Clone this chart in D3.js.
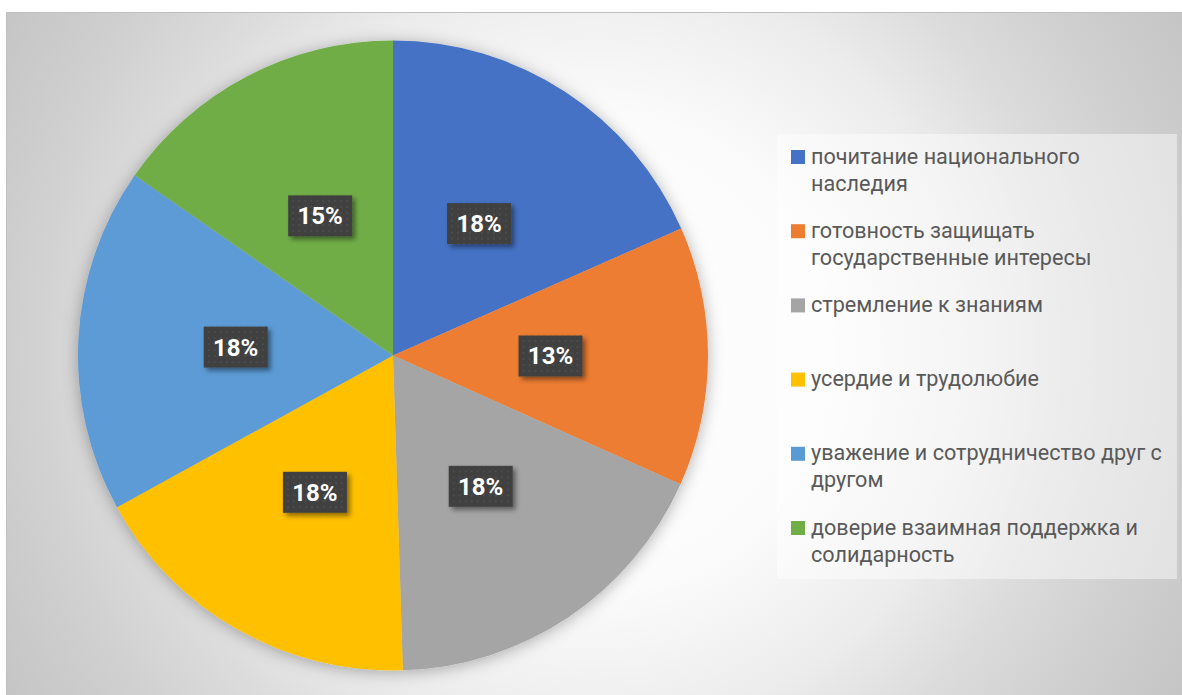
<!DOCTYPE html>
<html lang="ru">
<head>
<meta charset="UTF-8">
<script src="https://d3js.org/d3.v7.min.js"></script>
<style>
  body { margin: 0; background: #fff; font-family: Roboto, "Noto Sans", sans-serif; }
  .legend-text { font-size: 21.6px; fill: #595959; }
  .pct { font-size: 24px; font-weight: bold; fill: #fff; text-anchor: middle; }
</style>
</head>
<body>
<svg id="chart" width="1182" height="695"></svg>
<script>
// slice names in drawing order (clockwise from 12 o'clock); "\n" = legend line break
const categories = [
  "почитание национального\nнаследия",
  "готовность защищать\nгосударственные интересы",
  "стремление к знаниям",
  "усердие и трудолюбие",
  "уважение и сотрудничество друг с\nдругом",
  "доверие взаимная поддержка и\nсолидарность"
];
const values = [18.4, 13.3, 17.8, 17.5, 17.7, 15.3];
const colors = ["#4472C4", "#ED7D31", "#A5A5A5", "#FFC000", "#5B9BD5", "#70AD47"];

const W = 1182, H = 695;
const cx = 393, cy = 355.5, R = 315;

const svg = d3.select("#chart");
const defs = svg.append("defs");

const bg = defs.append("radialGradient").attr("id", "bg")
  .attr("gradientUnits", "userSpaceOnUse")
  .attr("cx", 594).attr("cy", 353).attr("r", 680);
[[0, "#ffffff"], [0.35, "#fbfbfb"], [0.56, "#ececec"], [0.7, "#dcdcdc"], [0.84, "#d0d0d0"], [1, "#c5c5c5"]]
  .forEach(([o, c]) => bg.append("stop").attr("offset", o).attr("stop-color", c));

defs.append("filter").attr("id", "pieShadow").attr("x", "-20%").attr("y", "-20%").attr("width", "140%").attr("height", "140%")
  .append("feDropShadow").attr("dx", 0).attr("dy", 2).attr("stdDeviation", 8)
  .attr("flood-color", "#000").attr("flood-opacity", 0.3);

defs.append("filter").attr("id", "boxShadow").attr("x", "-30%").attr("y", "-30%").attr("width", "160%").attr("height", "160%")
  .append("feDropShadow").attr("dx", 3).attr("dy", 3).attr("stdDeviation", 2.5)
  .attr("flood-color", "#000").attr("flood-opacity", 0.45);

const pat = defs.append("pattern").attr("id", "dots")
  .attr("patternUnits", "userSpaceOnUse").attr("width", 6).attr("height", 6);
pat.append("rect").attr("width", 6).attr("height", 6).attr("fill", "#404040");
pat.append("circle").attr("cx", 3).attr("cy", 3).attr("r", 1).attr("fill", "#4f4f4f");

// chart area
svg.append("rect")
  .attr("x", 6.5).attr("y", 12.5).attr("width", W).attr("height", H)
  .attr("fill", "url(#bg)").attr("stroke", "#bfbfbf").attr("stroke-width", 1);

const pie = d3.pie().sort(null).value(d => d)(values);
const arc = d3.arc().innerRadius(0).outerRadius(R);
const total = d3.sum(values);
const fmt = v => Math.round(v / total * 100) + "%";

const g = svg.append("g").attr("transform", `translate(${cx},${cy})`);
g.append("g").attr("filter", "url(#pieShadow)")
  .selectAll("path").data(pie).join("path")
  .attr("d", arc)
  .attr("fill", (d, i) => colors[i]);

const labels = g.selectAll(".lbl").data(pie).join("g")
  .attr("class", "lbl")
  .attr("transform", d => `translate(${arc.centroid(d)})`);
labels.append("rect")
  .attr("x", -32).attr("y", -20.5).attr("width", 64).attr("height", 41)
  .attr("fill", "url(#dots)").attr("filter", "url(#boxShadow)");
labels.append("text").attr("class", "pct")
  .attr("y", 8.5)
  .text(d => fmt(d.data));

// legend
svg.append("rect")
  .attr("x", 777).attr("y", 134).attr("width", 400).attr("height", 445)
  .attr("fill", "#ffffff").attr("fill-opacity", 0.45);

const leg = svg.append("g");
const item = leg.selectAll("g").data(categories).join("g")
  .attr("transform", (d, i) => `translate(791,${157 + i * 74.2})`);
item.append("rect")
  .attr("x", 0).attr("y", -7).attr("width", 14).attr("height", 14)
  .attr("fill", (d, i) => colors[i]);
item.append("text").attr("class", "legend-text")
  .attr("x", 20).attr("y", 6.5)
  .selectAll("tspan").data(d => d.split("\n")).join("tspan")
  .attr("x", 20).attr("dy", (d, j) => j === 0 ? 0 : 27)
  .text(d => d);
</script>
</body>
</html>
